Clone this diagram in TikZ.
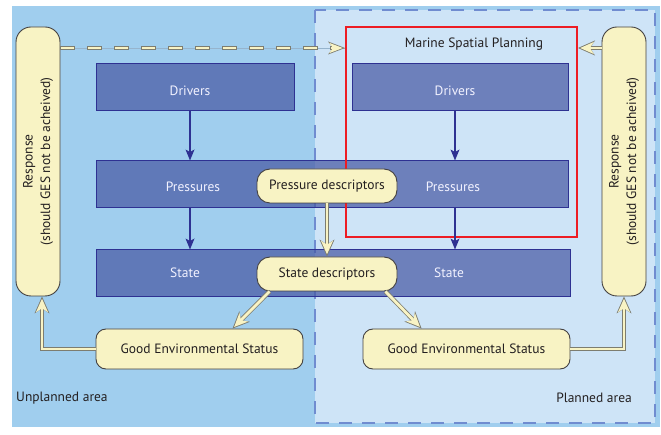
\documentclass[tikz,border=0pt]{standalone}
\usepackage{fontspec}
\setmainfont{PT Sans}
\usetikzlibrary{arrows.meta}
\definecolor{bgL}{RGB}{160,206,238}
\definecolor{bgR}{RGB}{206,228,247}
\definecolor{dashB}{RGB}{112,140,208}
\definecolor{boxB}{RGB}{69,86,162}
\definecolor{lineB}{RGB}{46,49,146}
\definecolor{cream}{RGB}{248,243,196}
\definecolor{cgray}{RGB}{125,125,112}
\definecolor{ink}{RGB}{35,31,32}
\definecolor{mspred}{RGB}{237,28,36}
\definecolor{thinl}{RGB}{150,180,205}
\begin{document}
\begin{tikzpicture}[x=1pt,y=-1pt,
  font=\fontsize{13.5}{17.5}\selectfont,
  bluebox/.style={draw=lineB, line width=1pt, fill=boxB, fill opacity=0.7, inner sep=0pt, minimum height=47pt, minimum width=#1},
  bluetext/.style={text=white!95!blue, inner sep=0pt},
  creambox/.style={draw=ink!85, line width=0.9pt, fill=cream, text=ink, inner sep=0pt, rounded corners=#1},
  plain/.style={text=ink, inner sep=0pt},
  barrow/.style={draw=lineB, line width=1.8pt, -{Stealth[length=11pt,width=9pt,inset=2.5pt,line width=0pt]}},
  carrow/.style={draw=cgray, line width=4.4pt, -{Stealth[length=17pt,width=15pt,inset=5pt,line width=0pt]},
    postaction={draw=cream, line width=2.8pt, -{Stealth[length=13.6pt,width=12.2pt,inset=4pt,line width=0pt]}, shorten >=2.3pt}},
  cdash/.style={draw=thinl, line width=0.5pt,
    postaction={draw=cgray, line width=4.4pt, dash pattern=on 15pt off 12pt, -{Stealth[length=17pt,width=13pt,inset=5pt,line width=0pt]}},
    postaction={draw=cream, line width=2.8pt, dash pattern=on 13pt off 14pt, dash phase=26pt, -{Stealth[length=13.6pt,width=10.4pt,inset=4pt,line width=0pt]}, shorten >=2.3pt}}
]
\path[use as bounding box] (0,0) rectangle (661,435);
% backgrounds
\fill[bgL] (12,6) rectangle (660,427);
\draw[dashB, fill=bgR, line width=1.4pt, dash pattern=on 13pt off 10pt] (315,10) rectangle (655,423);

% blue boxes
\node[bluebox=198pt] (drvL) at (195,87.5) {};
\node[bluebox=216pt] (drvR) at (460,87.5) {};
\node[bluebox=472pt] (pres) at (332,184.5) {};
\node[bluebox=474pt] (state) at (333,273.5) {};

\node[bluetext] (tdL) at (190,91) {Drivers};
\node[bluetext] (tdR) at (455,91) {Drivers};
\node[bluetext] (tpL) at (193,187) {Pressures};
\node[bluetext] (tpR) at (453,187) {Pressures};
\node[bluetext] (tsL) at (185,273) {State};
\node[bluetext] (tsR) at (449,273) {State};

% MSP
\node[draw=mspred, line width=2pt, minimum width=231pt, minimum height=210pt, inner sep=0pt] (msp) at (461.5,132) {};
\node[plain] (mspt) at (474,44) {Marine Spatial Planning};
\coordinate (lev) at (0,48);

% response boxes
\node[creambox=15pt, minimum width=44pt, minimum height=269pt] (respL) at (38,161.5) {};
\node[plain, rotate=90, align=center] at (respL.center) {Response\\(should GES not be acheived)};
\node[creambox=15pt, minimum width=44pt, minimum height=269pt] (respR) at (624,161.5) {};
\node[plain, rotate=90, align=center] at (respR.center) {Response\\(should GES not be acheived)};

% descriptors
\node[creambox=13pt, minimum width=140pt, minimum height=34pt] (pdesc) at (327,186) {Pressure descriptors};
\node[creambox=13pt, minimum width=140pt, minimum height=34pt] (sdesc) at (327,274) {State descriptors};

% GES
\node[creambox=10pt, minimum width=207pt, minimum height=40pt] (gesL) at (199.5,349) {Good Environmental Status};
\node[creambox=10pt, minimum width=207pt, minimum height=40pt] (gesR) at (466.5,349) {Good Environmental Status};

% area labels
\node[plain, anchor=west] at (16,398) {Unplanned area};
\node[plain, anchor=east] at (632,398) {Planned area};

% blue arrows
\draw[barrow] (tdL |- drvL.south) -- (tdL |- pres.north);
\draw[barrow] (tdR |- drvR.south) -- (tdR |- pres.north);
\draw[barrow] (tdL |- pres.south) -- (tdL |- state.north);
\draw[barrow] (tdR |- pres.south) -- (tdR |- state.north);

% cream arrows
\draw[carrow] (pdesc.south) -- (sdesc.north);
\draw[carrow] ([xshift=13pt]sdesc.south west) -- ([xshift=137pt]gesL.north west);
\draw[carrow] ([xshift=-12pt]sdesc.south east) -- ([xshift=59pt]gesR.north west);
\draw[carrow] (gesL.west) -| ([xshift=4pt]respL.south);
\draw[carrow] (gesR.east) -| (respR.south);
\draw[carrow] (respR.west |- lev) -- (msp.east |- lev);
\draw[cdash] (respL.east |- lev) -- (msp.west |- lev);
\end{tikzpicture}
\end{document}
